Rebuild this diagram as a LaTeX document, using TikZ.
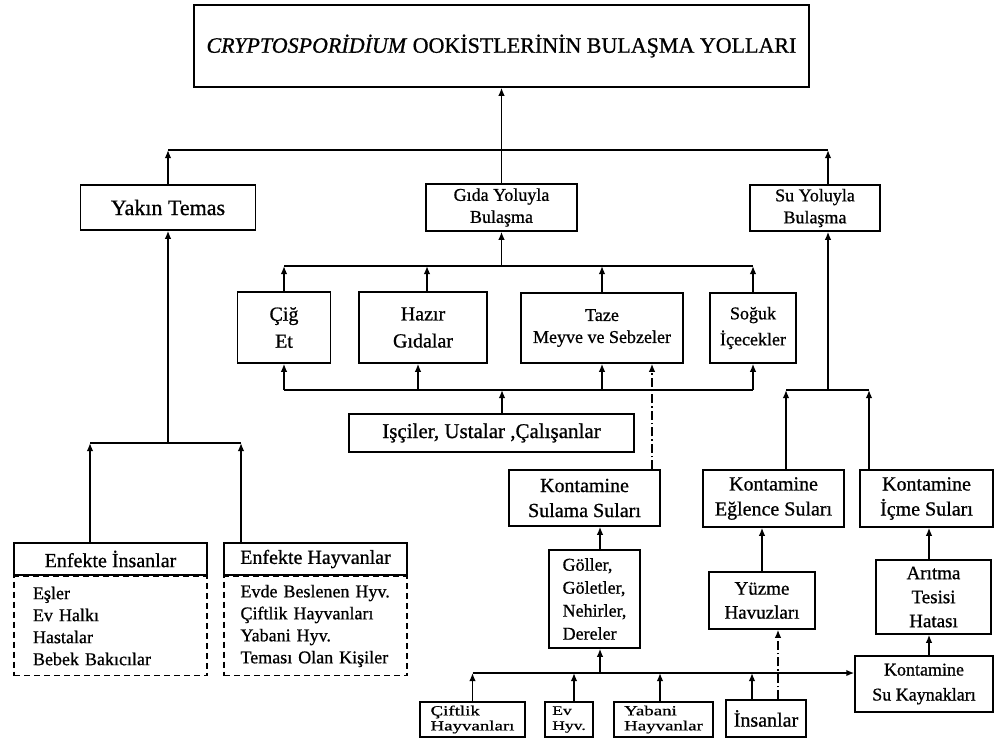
\documentclass[tikz,border=0pt]{standalone}
\usepackage{fontspec}
\setmainfont{Liberation Serif}[FakeBold=0.8]
\newfontfamily\widefont[FakeStretch=1.35, FakeBold=0.8]{Liberation Serif}
\usetikzlibrary{arrows.meta}

\newcommand{\fsz}[2]{\fontsize{#1}{#2}\selectfont}

\tikzset{
  box/.style={draw, line width=1.5pt, fill=white, align=center, inner sep=2pt},
  listbox/.style={draw, line width=1.5pt, dash pattern=on 6pt off 4pt, align=left, font=\fsz{18}{22}},
  ln/.style={line width=1.5pt},
  arr/.style={line width=1.5pt, -{Latex[length=8pt,width=6.5pt]}},
  dotdash/.style={arr, dash pattern=on 9pt off 3pt on 1.5pt off 3pt}
}

\begin{document}
\begin{tikzpicture}[x=1pt, y=-1pt]
\useasboundingbox (0,0) rectangle (998,742);

% ana baslik ve ilk seviye
\node[box, minimum width=615pt, minimum height=82pt, font=\fsz{22}{26}] (title) at (501.5,46) {\textit{CRYPTOSPORİDİUM} OOKİSTLERİNİN BULAŞMA YOLLARI};
\node[box, minimum width=175pt, minimum height=45pt, font=\fsz{22}{26}] (yakin) at (168,207.5) {Yakın Temas};
\node[box, minimum width=151pt, minimum height=47pt, font=\fsz{18}{22}] (gida) at (501.5,207.5) {Gıda Yoluyla\\Bulaşma};
\node[box, minimum width=130pt, minimum height=46pt, font=\fsz{18}{22}] (su) at (815,208) {Su Yoluyla\\Bulaşma};

% gida yolu
\node[box, minimum width=93pt, minimum height=71pt, font=\fsz{20}{27}] (cig) at (284,327.5) {Çiğ\\Et};
\node[box, minimum width=128pt, minimum height=71pt, font=\fsz{20}{27}] (hazir) at (423,327.5) {Hazır\\Gıdalar};
\node[box, minimum width=162pt, minimum height=70pt, font=\fsz{18}{22}] (taze) at (602,328) {Taze\\Meyve ve Sebzeler};
\node[box, minimum width=86pt, minimum height=70pt, font=\fsz{18}{26}] (soguk) at (753,328) {Soğuk\\İçecekler};
\node[box, minimum width=285pt, minimum height=38pt, font=\fsz{21}{25}] (isci) at (491.5,433) {Işçiler, Ustalar ,Çalışanlar};

% su yolu
\node[box, minimum width=151pt, minimum height=56pt, font=\fsz{20}{25}] (sulama) at (584.5,498) {Kontamine\\Sulama Suları};
\node[box, minimum width=141pt, minimum height=57pt, font=\fsz{20}{25}] (eglence) at (773.5,498.5) {Kontamine\\Eğlence Suları};
\node[box, minimum width=133pt, minimum height=57pt, font=\fsz{20}{25}] (icme) at (926.5,498.5) {Kontamine\\İçme Suları};
\node[box, minimum width=91pt, minimum height=98pt, align=left, font=\fsz{18}{23}] (goller) at (594.5,599) {Göller,\\Göletler,\\Nehirler,\\Dereler};
\node[box, minimum width=106pt, minimum height=57pt, font=\fsz{19}{24}] (yuzme) at (762,600.5) {Yüzme\\Havuzları};
\node[box, minimum width=115pt, minimum height=74pt, font=\fsz{19}{24}] (aritma) at (933.5,597) {Arıtma\\Tesisi\\Hatası};
\node[box, minimum width=138pt, minimum height=56pt, font=\fsz{18}{25}] (ksk) at (924,684) {Kontamine\\Su Kaynakları};

% kaynaklar
\node[box, minimum width=105pt, minimum height=35pt, align=left, font=\widefont\fsz{14}{15}] (ciftlik) at (472.5,719.5) {Çiftlik\\Hayvanları};
\node[box, minimum width=48pt, minimum height=35pt, align=left, font=\widefont\fsz{13}{15}] (evhyv) at (569,719.5) {Ev\\Hyv.};
\node[box, minimum width=99pt, minimum height=35pt, align=left, font=\widefont\fsz{14}{15}] (yabani) at (663.5,719.5) {Yabani\\Hayvanlar};
\node[box, minimum width=80pt, minimum height=37pt, font=\fsz{20}{24}] (insan) at (766,718.5) {İnsanlar};

% yakin temas
\node[box, minimum width=193pt, minimum height=32pt, font=\fsz{20}{24}] (enfins) at (110.5,559) {Enfekte İnsanlar};
\node[box, minimum width=183pt, minimum height=32pt, font=\fsz{20}{24}] (enfhay) at (315.5,559) {Enfekte Hayvanlar};
\node[listbox, text width=155pt, inner xsep=19pt, minimum height=99pt, anchor=north] (inslist) at (enfins.south) {Eşler\\Ev Halkı\\Hastalar\\Bebek Bakıcılar};
\node[listbox, text width=150pt, inner xsep=16.5pt, minimum height=99pt, anchor=north] (haylist) at (enfhay.south) {Evde Beslenen Hyv.\\Çiftlik Hayvanları\\Yabani Hyv.\\Teması Olan Kişiler};

% bara hatlari
\coordinate (topbus) at (0,150);
\coordinate (foodbus) at (0,266);
\coordinate (workbus) at (0,390);
\coordinate (leftbus) at (0,443);
\coordinate (srcbus) at (0,673);

\coordinate (su-in) at ([xshift=13pt]su.south);
\coordinate (hazir-in) at ([xshift=-5pt]hazir.south);
\coordinate (hazir-out) at ([xshift=4pt]hazir.north);
\coordinate (isci-out) at ([xshift=10.5pt]isci.north);
\coordinate (sulama-dd) at ([xshift=67.5pt]sulama.north);
\coordinate (goller-out) at ([xshift=5.5pt]goller.north);
\coordinate (egl-out) at ([xshift=12.5pt]eglence.north);
\coordinate (icme-out) at ([xshift=-57.5pt]icme.north);
\coordinate (arit-port) at ([xshift=-4.5pt]aritma.north);
\coordinate (evhyv-out) at ([xshift=5pt]evhyv.north);
\coordinate (yab-out) at ([xshift=-3.5pt]yabani.north);
\coordinate (insan-out) at ([xshift=-14pt]insan.north);
\coordinate (insan-dd) at ([xshift=12pt]insan.north);
\coordinate (ins-out) at ([xshift=-20.5pt]enfins.north);
\coordinate (hay-out) at ([xshift=-74.5pt]enfhay.north);

% ust seviye
\draw[arr] (gida.north) -- (title.south);
\draw[ln] (yakin.north |- topbus) -- (su-in |- topbus);
\draw[arr] (yakin.north) -- (yakin.north |- topbus);
\draw[arr] (su.north -| su-in) -- (su-in |- topbus);

% gida
\draw[arr] (gida.south |- foodbus) -- (gida.south);
\draw[ln] (cig.north |- foodbus) -- (soguk.north |- foodbus);
\draw[arr] (cig.north) -- (cig.north |- foodbus);
\draw[arr] (hazir.north -| hazir-out) -- (hazir-out |- foodbus);
\draw[arr] (taze.north) -- (taze.north |- foodbus);
\draw[arr] (soguk.north) -- (soguk.north |- foodbus);

\draw[ln] (cig.south |- workbus) -- (soguk.south |- workbus);
\draw[arr] (cig.south |- workbus) -- (cig.south);
\draw[arr] (hazir-in |- workbus) -- (hazir-in);
\draw[arr] (taze.south |- workbus) -- (taze.south);
\draw[arr] (soguk.south |- workbus) -- (soguk.south);
\draw[arr] (isci-out) -- (isci-out |- workbus);

% su
\draw[arr] (su-in |- workbus) -- (su-in);
\draw[ln] (egl-out |- workbus) -- (icme-out |- workbus);
\draw[arr] (egl-out) -- (egl-out |- workbus);
\draw[arr] (icme-out) -- (icme-out |- workbus);
\draw[dotdash] (sulama-dd) -- (taze.south -| sulama-dd);
\draw[arr] (goller-out) -- (sulama.south -| goller-out);
\draw[arr] (yuzme.north) -- (eglence.south -| yuzme.north);
\draw[arr] (arit-port) -- (icme.south -| arit-port);
\draw[arr] (ksk.north -| arit-port) -- (aritma.south -| arit-port);

% kaynaklar
\draw[arr] (ciftlik.north |- srcbus) -- (ksk.west |- srcbus);
\draw[arr] (goller-out |- srcbus) -- (goller.south -| goller-out);
\draw[arr] (ciftlik.north) -- (ciftlik.north |- srcbus);
\draw[arr] (evhyv-out) -- (evhyv-out |- srcbus);
\draw[arr] (yab-out) -- (yab-out |- srcbus);
\draw[arr] (insan-out) -- (insan-out |- srcbus);
\draw[dotdash] (insan-dd) -- (yuzme.south -| insan-dd);

% yakin temas
\draw[arr] (yakin.south |- leftbus) -- (yakin.south);
\draw[ln] (ins-out |- leftbus) -- (hay-out |- leftbus);
\draw[arr] (ins-out) -- (ins-out |- leftbus);
\draw[arr] (hay-out) -- (hay-out |- leftbus);
\end{tikzpicture}
\end{document}
